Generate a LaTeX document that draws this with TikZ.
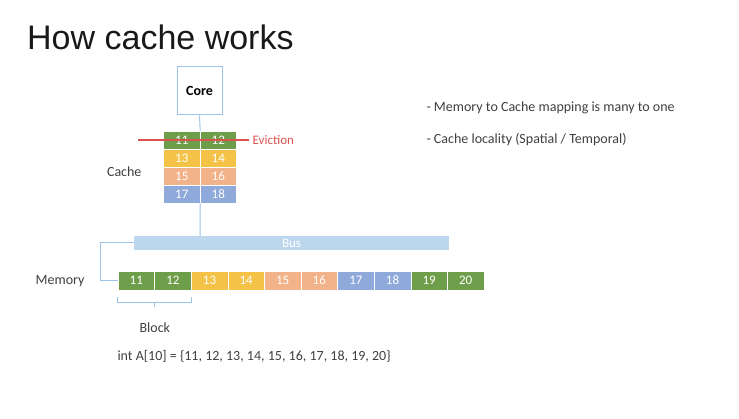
\documentclass[tikz,border=0pt]{standalone}
\usepackage{fontspec}
\setmainfont{Carlito}
\newfontfamily\titlefont{Liberation Sans}
\definecolor{cgreen}{HTML}{6E9E4A}
\definecolor{cyellow}{HTML}{F3C246}
\definecolor{cpeach}{HTML}{F2B38A}
\definecolor{cblue}{HTML}{8EA9DA}
\definecolor{busblue}{HTML}{BDD7EE}
\definecolor{linkblue}{HTML}{9DC3E6}
\definecolor{labelgrey}{HTML}{404040}
\definecolor{evictred}{HTML}{D9534F}
\tikzset{
	cell/.style={fill=#1, draw=white, line width=.4pt, text=white, inner sep=0, font=\fontsize{13}{15}\selectfont},
	label/.style={text=labelgrey, font=\fontsize{14}{16}\selectfont},
	link/.style={draw=linkblue, line width=1pt}
}
\begin{document}
\begin{tikzpicture}[x=1pt, y=-1pt]
	\useasboundingbox [fill=white] (0,0) rectangle (739,419);
	\node [anchor=base west, inner sep=0, font=\titlefont\fontsize{34}{40}\selectfont, text=black!90] (title) at (27,50) {How cache works};
	\node [draw=linkblue, line width=1pt, fill=white, minimum width=45, minimum height=48, inner sep=0, font=\fontsize{14}{16}\selectfont\bfseries] (core) at (199.5,91) {Core};
	\foreach \a/\b/\c [count=\r] in {11/12/cgreen,13/14/cyellow,15/16/cpeach,17/18/cblue} {
		\node [cell=\c, minimum width=36.5, minimum height=18] (c\a) at (181.75,122+18*\r) {\a};
		\node [cell=\c, minimum width=36.5, minimum height=18] (c\b) at (218.25,122+18*\r) {\b};
	}
	\node [label, anchor=east] (cachelbl) at (145,172) {Cache};
	\draw [evictred, line width=1.2pt] ([xshift=-25pt]c11.west) -- ([xshift=12pt]c12.east) node [anchor=west, text=evictred, font=\fontsize{13}{15}\selectfont] (evict) {Eviction};
	\node [fill=busblue, minimum width=315, minimum height=14, inner sep=0, text=white, font=\fontsize{13}{15}\selectfont] (bus) at (291.5,243) {Bus};
	\foreach \v/\c [count=\i] in {11/cgreen,12/cgreen,13/cyellow,14/cyellow,15/cpeach,16/cpeach,17/cblue,18/cblue,19/cgreen,20/cgreen}
		\node [cell=\c, minimum width=36.6, minimum height=19] (m\v) at (118+36.6*\i-18.3,280.5) {\v};
	\node [label, anchor=east] (memlbl) at (88,281) {Memory};
	\path [link] (core.south) -- (c11.north east) (c17.south east) -- (c17.south east |- bus.north);
	\path [link] (bus.west) -- ++(-33,0) |- (m11.west);
	\path [draw=linkblue, line width=.8pt] ([yshift=-7pt]m11.south west) -- ++(0,5) -| ([yshift=-7pt]m12.south east) ([yshift=-12pt]m11.south east) -- ++(0,5) coordinate (blk);
	\node [label, anchor=north] (blocklbl) at ([yshift=-12pt]blk) {Block};
	\node [label, anchor=west] (decl) at (114,356) {int A[10] = \{11, 12, 13, 14, 15, 16, 17, 18, 19, 20\}};
	\node [label, anchor=west] (note1) at (423,108) {- Memory to Cache mapping is many to one};
	\node [label, anchor=west] (note2) at (423,140) {- Cache locality (Spatial / Temporal)};
\end{tikzpicture}
\end{document}
